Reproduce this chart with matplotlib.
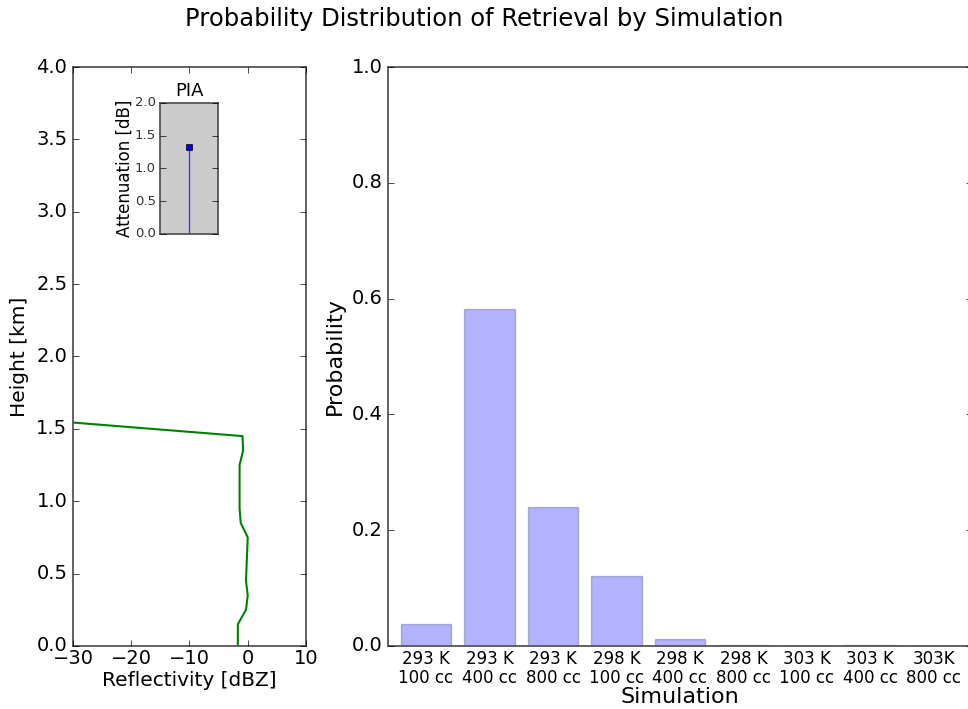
import numpy as np
import matplotlib
matplotlib.use('Agg')
import matplotlib.pyplot as plt

plt.style.use('classic')
plt.rcParams['axes.edgecolor'] = '#555555'
plt.rcParams['axes.linewidth'] = 1.3

# reflectivity profile
height = [0.0, 0.05, 0.15, 0.25, 0.35, 0.45, 0.55, 0.65, 0.75, 0.85,
          0.95, 1.05, 1.15, 1.25, 1.35, 1.45, 1.55]
refl = [-1.7, -1.7, -1.7, -0.3, 0.0, -0.3, -0.2, -0.1, 0.0, -1.2,
        -1.4, -1.4, -1.4, -1.4, -0.8, -0.9, -32.0]

# path integrated attenuation
pia = 1.33

# retrieval probabilities
sims = ['293 K\n100 cc', '293 K\n400 cc', '293 K\n800 cc',
        '298 K\n100 cc', '298 K\n400 cc', '298 K\n800 cc',
        '303 K\n100 cc', '303 K\n400 cc', '303K\n800 cc']
prob = [0.038, 0.582, 0.240, 0.121, 0.012, 0.002, 0.0, 0.002, 0.0]

fig = plt.figure(figsize=(9.68, 7.09), dpi=100, facecolor='white')
fig.suptitle('Probability Distribution of Retrieval by Simulation',
             fontsize=17.5, y=0.99)

ax1 = fig.add_axes([0.0754, 0.0889, 0.2407, 0.8166])
ax1.plot(refl, height, color='green', lw=1.5)
ax1.set_xlim(-30, 10)
ax1.set_ylim(0, 4)
ax1.set_xticks([-30, -20, -10, 0, 10])
ax1.set_yticks(np.arange(0, 4.01, 0.5))
ax1.set_xlabel('Reflectivity [dBZ]', fontsize=14.5, labelpad=2)
ax1.set_ylabel('Height [km]', fontsize=14.5)
ax1.tick_params(labelsize=14)
ax1.tick_params(axis='x', pad=2)

ax3 = fig.add_axes([0.1653, 0.670, 0.0599, 0.1848])
ax3.set_facecolor('#cccccc')
ax3.plot([0, 0], [0, pia], color='blue', alpha=0.7, lw=1)
ax3.plot([0], [pia], 's', color='blue', ms=5)
ax3.set_xlim(-1, 1)
ax3.set_ylim(0, 2)
ax3.set_xticks([])
ax3.set_yticks(np.arange(0, 2.01, 0.5))
ax3.tick_params(labelsize=9.5, labelcolor='#333333', pad=3)
ax3.set_ylabel('Attenuation [dB]', fontsize=12, labelpad=1)
ax3.set_title('PIA', fontsize=13)

ax2 = fig.add_axes([0.4008, 0.0889, 0.6033, 0.8166])
x = np.arange(len(prob))
ax2.bar(x + 0.4, prob, width=0.8, color='blue', alpha=0.3, edgecolor='#333366')
ax2.set_xlim(-0.2, 9)
ax2.set_ylim(0, 1)
ax2.set_xticks(x + 0.4)
ax2.set_xticklabels(sims, fontsize=12, linespacing=1.05)
ax2.tick_params(axis='x', length=0, pad=3)
ax2.tick_params(axis='y', labelsize=14)
ax2.set_yticks(np.arange(0, 1.01, 0.2))
ax2.set_xlabel('Simulation', fontsize=16, labelpad=0)
ax2.set_ylabel('Probability', fontsize=16)

fig.savefig('out.png', dpi=100, facecolor='white')
